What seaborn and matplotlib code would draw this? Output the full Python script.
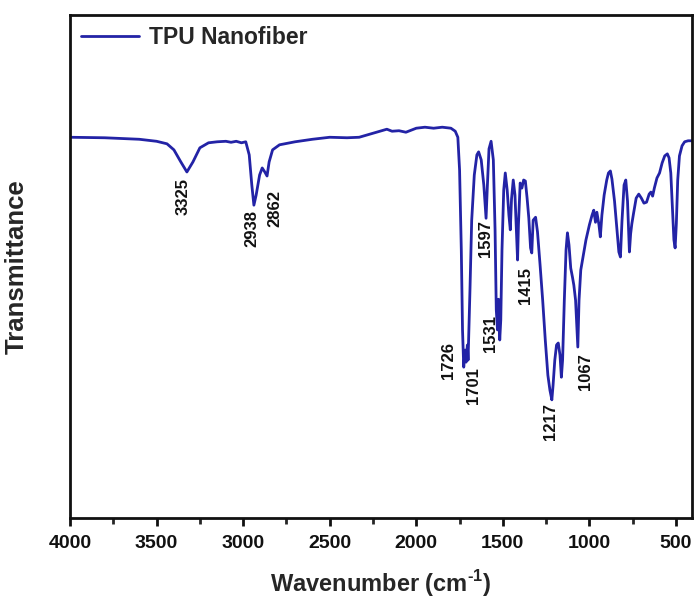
import matplotlib
matplotlib.use("Agg")
import matplotlib.pyplot as plt
from matplotlib.ticker import MultipleLocator
import seaborn as sns
import pandas as pd

# FTIR spectrum of the TPU nanofiber mat (wavenumber in cm^-1, transmittance in a.u.)
wavenumber = [
    4000, 3800, 3600, 3500, 3440, 3400, 3360, 3325, 3290, 3250, 3200, 3150, 3100,
    3070, 3040, 3010, 2985, 2965, 2950, 2938, 2925, 2905, 2890, 2875, 2862, 2850,
    2830, 2790, 2700, 2600, 2500, 2400, 2330, 2250, 2170, 2140, 2100, 2060, 2000,
    1950, 1900, 1850, 1800, 1775, 1760, 1750, 1740, 1733, 1726, 1718, 1712, 1705,
    1701, 1690, 1680, 1665, 1650, 1640, 1625, 1610, 1597, 1590, 1580, 1568, 1555,
    1545, 1538, 1531, 1525, 1518, 1512, 1505, 1495, 1486, 1475, 1465, 1457, 1450,
    1440, 1430, 1420, 1415, 1410, 1400, 1390, 1380, 1370, 1360, 1350, 1340, 1333,
    1325, 1311, 1300, 1285, 1270, 1255, 1240, 1228, 1217, 1210, 1200, 1190, 1180,
    1170, 1162, 1155, 1145, 1135, 1127, 1118, 1108, 1098, 1090, 1080, 1072, 1067,
    1060, 1050, 1040, 1020, 1000, 985, 975, 965, 957, 945, 937, 928, 915, 900, 890,
    879, 870, 855, 840, 830, 821, 812, 800, 790, 780, 772, 769, 762, 755, 745, 730,
    715, 700, 685, 670, 655, 645, 635, 625, 610, 595, 580, 565, 550, 540, 530, 520,
    512, 505, 498, 490, 480, 465, 450, 430, 405,
]
transmittance = [
    75.7, 75.6, 75.3, 74.9, 74.4, 73.2, 70.8, 68.8, 70.8, 73.6, 74.6, 74.8, 74.9,
    74.7, 74.9, 74.6, 74.8, 72.2, 66.2, 62.2, 64.2, 68.2, 69.6, 68.8, 68.0, 70.8,
    73.2, 74.2, 74.8, 75.3, 75.7, 75.6, 75.7, 76.5, 77.3, 76.9, 77.0, 76.7, 77.5,
    77.7, 77.5, 77.7, 77.5, 76.9, 75.7, 69.2, 53.3, 37.4, 30.0, 33.4, 31.0, 34.4,
    31.4, 45.3, 59.2, 68.2, 72.2, 72.8, 71.2, 66.2, 59.6, 65.6, 73.4, 74.9, 71.2,
    57.3, 41.4, 37.4, 43.5, 35.4, 39.4, 53.3, 65.2, 68.6, 65.2, 60.2, 57.3, 63.4,
    67.2, 64.2, 55.3, 51.3, 58.3, 66.6, 65.6, 67.2, 67.0, 63.6, 59.6, 53.7, 52.7,
    59.2, 59.8, 56.9, 50.3, 43.3, 35.4, 28.4, 25.4, 23.5, 26.4, 31.4, 34.4, 34.8,
    32.4, 28.0, 31.4, 43.3, 53.3, 56.7, 54.3, 49.7, 47.9, 46.3, 43.3, 37.4, 34.0,
    43.3, 49.3, 51.3, 55.3, 58.3, 60.2, 61.2, 58.8, 60.8, 58.3, 55.9, 60.2, 64.2,
    67.2, 68.6, 69.0, 67.4, 63.0, 56.9, 52.9, 51.9, 59.0, 66.2, 67.2, 63.0, 55.3,
    52.9, 56.5, 58.5, 60.6, 63.6, 64.4, 63.6, 62.6, 62.8, 64.4, 64.8, 64.0, 65.6,
    67.6, 68.6, 70.6, 72.0, 72.4, 71.6, 68.6, 61.2, 55.3, 53.7, 58.5, 67.2, 72.0,
    74.0, 74.8, 75.0, 75.0,
]

# Peak assignments: label text, x (cm^-1) and y (a.u.) of the label's top edge
peak_labels = ["3325", "2938", "2862", "1726", "1701", "1597", "1531", "1415", "1217", "1067"]
peak_label_x = [3347, 2948, 2815, 1815, 1671, 1601, 1572, 1370, 1225, 1023]
peak_label_y = [67.6, 61.2, 65.2, 35.0, 30.0, 59.2, 40.4, 49.9, 22.9, 32.8]

x_ticks = [4000, 3500, 3000, 2500, 2000, 1500, 1000, 500]

sns.set_style("ticks")
plt.rcParams["font.family"] = ["Liberation Sans", "DejaVu Sans"]
plt.rcParams["font.weight"] = "bold"
plt.rcParams["mathtext.fontset"] = "custom"
plt.rcParams["mathtext.rm"] = "Liberation Sans:bold"
plt.rcParams["mathtext.bf"] = "Liberation Sans:bold"

df = pd.DataFrame({"Wavenumber": wavenumber, "Transmittance": transmittance})

fig = plt.figure(figsize=(6.94, 6.01), dpi=100)
ax = fig.add_axes([0.1009, 0.138, 0.8961, 0.837])

line_color = "#2323a6"
sns.lineplot(data=df, x="Wavenumber", y="Transmittance", ax=ax, color=line_color,
             linewidth=2.0, estimator=None, sort=False, label="TPU Nanofiber")

for txt, px, py in zip(peak_labels, peak_label_x, peak_label_y):
    ax.text(px, py, txt, rotation=90, ha="center", va="top",
            fontsize=12, fontweight="bold", color="#111111")

ax.set_xlim(4000, 408)
ax.set_ylim(0, 100)
ax.set_xticks(x_ticks)
ax.xaxis.set_minor_locator(MultipleLocator(250))
ax.set_yticks([])
ax.tick_params(axis="x", which="major", direction="out", length=6, width=2,
               labelsize=14, pad=6, colors="#111111")
ax.tick_params(axis="x", which="minor", direction="out", length=4, width=2)
for lbl in ax.get_xticklabels():
    lbl.set_fontweight("bold")
for sp in ax.spines.values():
    sp.set_visible(True)
    sp.set_linewidth(2)
    sp.set_color("#111111")

ax.set_xlabel(r"Wavenumber (cm$^{\text{-1}}$)", fontsize=17, fontweight="bold", labelpad=12)
ax.set_ylabel("Transmittance", fontsize=18.5, fontweight="bold", labelpad=30)

leg = ax.legend(loc="upper left", frameon=False, fontsize=16.5, handlelength=2.5,
                handletextpad=0.45, borderaxespad=0.2, borderpad=0.3)
for t in leg.get_texts():
    t.set_fontweight("bold")

fig.savefig("out.png", dpi=100)
